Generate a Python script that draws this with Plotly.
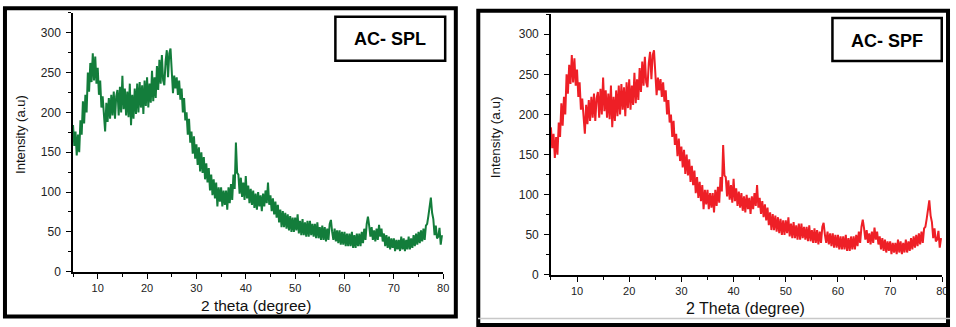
import plotly.graph_objects as go

W, H = 956, 327

# 2-theta grid (degrees), step 0.25 starting at 5
theta_start = 5.0
theta_step = 0.25

# Intensity, 4 readings per degree (5.00 .. 79.75)
intensity_spl = [
    184, 158, 176, 146,  172, 150, 190, 172,  214, 186, 222, 200,  250, 226, 262, 238,
    274, 240, 270, 236,  256, 222, 240, 206,  220, 190, 176, 212,  188, 218, 192, 222,
    196, 226, 192, 220,  228, 196, 232, 200,  246, 204, 230, 196,  226, 194, 236, 184,
    222, 192, 230, 198,  236, 200, 238, 206,  234, 198, 240, 208,  244, 206, 236, 212,
    252, 214, 244, 218,  258, 228, 266, 236,  272, 240, 234, 264,  278, 244, 274, 280,
    252, 224, 246, 230,  244, 222, 240, 216,  230, 200, 218, 190,  200, 172, 192, 162,
    176, 148, 170, 142,  160, 134, 156, 126,  150, 124, 144, 116,  136, 112, 130, 102,
    122, 96, 116, 92,    112, 82, 106, 88,    106, 82, 102, 84,    102, 78, 106, 86,
    110, 90, 122, 104,   162, 124, 122, 98,   118, 94, 112, 90,    120, 92, 108, 86,
    104, 84, 102, 80,    98, 78, 100, 82,     96, 76, 98, 82,      102, 86, 112, 84,
    96, 76, 92, 72,      88, 68, 84, 62,      78, 56, 76, 56,      74, 54, 72, 52,
    70, 50, 68, 50,      68, 52, 72, 48,      64, 46, 66, 46,      62, 44, 64, 44,
    64, 46, 60, 44,      60, 42, 62, 42,      56, 40, 58, 40,      56, 38, 54, 40,
    60, 65, 50, 40,      54, 38, 52, 36,      52, 34, 50, 34,      50, 32, 48, 32,
    48, 32, 50, 30,      46, 30, 48, 32,      48, 32, 50, 36,      54, 40, 60, 69,
    58, 44, 56, 40,      52, 38, 54, 40,      59, 44, 54, 38,      48, 32, 46, 30,
    44, 28, 42, 30,      42, 26, 40, 28,      40, 26, 44, 28,      42, 26, 40, 28,
    44, 28, 42, 30,      46, 32, 48, 34,      50, 36, 52, 38,      54, 40, 58, 60,
    70, 80, 93, 74,      66, 46, 58, 42,      44, 55, 34, 46,
]
# The AC-SPF pattern in the picture traces the same readings
intensity_spf = list(intensity_spl)

theta = [theta_start + theta_step * i for i in range(len(intensity_spl))]

x_ticks = [10, 20, 30, 40, 50, 60, 70, 80]
y_ticks = [0, 50, 100, 150, 200, 250, 300]
panel_labels = ["AC- SPL", "AC- SPF"]
x_titles = ["2 theta (degree)", "2 Theta (degree)"]
y_title = "Intensity (a.u)"

GREEN = "#137d3b"
RED = "#ee1f26"
FONT = "Liberation Sans, Arial, sans-serif"


def px(x):
    return x / W


def py(y):
    return 1 - y / H


fig = go.Figure()
fig.add_trace(go.Scatter(x=theta, y=intensity_spl, mode="lines",
                         line=dict(color=GREEN, width=2), xaxis="x", yaxis="y",
                         showlegend=False, hoverinfo="skip"))
fig.add_trace(go.Scatter(x=theta, y=intensity_spf, mode="lines",
                         line=dict(color=RED, width=2), xaxis="x2", yaxis="y2",
                         showlegend=False, hoverinfo="skip"))

common_x = dict(range=[5, 80], tickvals=x_ticks, showline=True, linecolor="black",
                linewidth=1.5, ticks="outside", ticklen=5, tickwidth=1.2, tickcolor="black",
                showgrid=False, zeroline=False,
                minor=dict(dtick=5, tick0=5, ticks="outside", ticklen=3, tickcolor="black", tickwidth=1),
                tickfont=dict(family=FONT, size=11, color="#222"))
common_y = dict(range=[0, 325], tickvals=y_ticks, showline=True, linecolor="black",
                linewidth=1.5, ticks="outside", ticklen=5, tickwidth=1.2, tickcolor="black",
                showgrid=False, zeroline=False,
                minor=dict(dtick=25, tick0=0, ticks="outside", ticklen=3, tickcolor="black", tickwidth=1),
                tickfont=dict(family=FONT, size=12, color="#222"), ticklabelstandoff=3)

fig.update_layout(
    width=W, height=H, margin=dict(l=0, r=0, t=0, b=0),
    paper_bgcolor="white", plot_bgcolor="white",
    xaxis=dict(domain=[px(73.5), px(446)], anchor="y", **common_x),
    yaxis=dict(domain=[py(277.7), py(13)], anchor="x", **common_y),
    xaxis2=dict(domain=[px(554.4), px(948.3)], anchor="y2", **common_x),
    yaxis2=dict(domain=[py(281), py(14.5)], anchor="x2", **common_y),
)

shapes = [
    # panel frames
    dict(type="rect", xref="paper", yref="paper", x0=px(5), x1=px(458.7), y0=py(323.5), y1=py(8.5),
         line=dict(color="black", width=4)),
    dict(type="rect", xref="paper", yref="paper", x0=px(481.3), x1=px(954), y0=py(332), y1=py(11),
         line=dict(color="black", width=4)),
    dict(type="line", xref="paper", yref="paper", x0=px(481), x1=px(956), y0=py(325.5), y1=py(325.5),
         line=dict(color="#c8c8c8", width=1.5)),
    # label boxes
    dict(type="rect", xref="paper", yref="paper", x0=px(337.5), x1=px(448), y0=py(62), y1=py(17),
         line=dict(color="black", width=2.5)),
    dict(type="rect", xref="paper", yref="paper", x0=px(837.7), x1=px(947.7), y0=py(62.3), y1=py(18.3),
         line=dict(color="black", width=2.5)),
]
fig.update_layout(shapes=shapes)

ann = []
ann.append(dict(x=px(392.75), y=py(40), text="<b>" + panel_labels[0] + "</b>"))
ann.append(dict(x=px(892.7), y=py(41.5), text="<b>" + panel_labels[1] + "</b>"))
label_anns = [dict(a, xref="paper", yref="paper", showarrow=False, xanchor="center", yanchor="middle",
                   font=dict(family=FONT, size=18, color="black")) for a in ann]

title_anns = [
    dict(x=px(258), y=py(311.7), text=x_titles[0], font=dict(family=FONT, size=15.5, color="#111")),
    dict(x=px(750), y=py(315), text=x_titles[1], font=dict(family=FONT, size=16, color="#111")),
    dict(x=px(20), y=py(137), text=y_title, textangle=-90, font=dict(family=FONT, size=13, color="#111")),
    dict(x=px(498.3), y=py(140), text=y_title, textangle=-90, font=dict(family=FONT, size=13.5, color="#111")),
]
title_anns = [dict(a, xref="paper", yref="paper", showarrow=False, xanchor="center", yanchor="middle")
              for a in title_anns]

fig.update_layout(annotations=label_anns + title_anns)

fig.write_html("out.html")
